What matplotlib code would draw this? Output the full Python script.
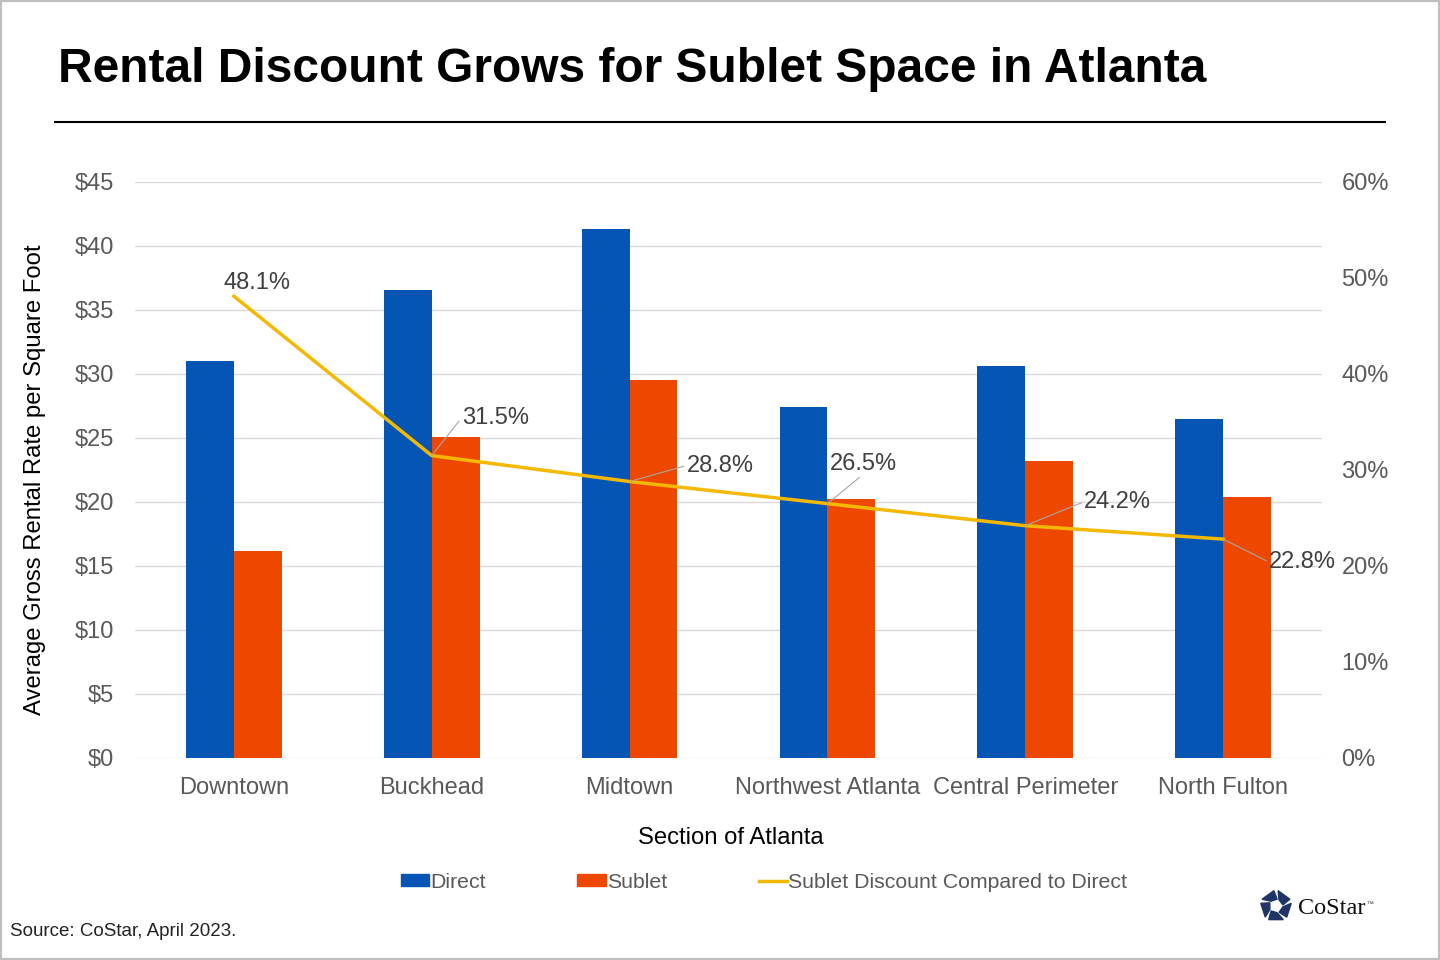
import numpy as np
import matplotlib
matplotlib.use('Agg')
import matplotlib.pyplot as plt
from matplotlib.patches import Patch, Polygon, Rectangle
from matplotlib.lines import Line2D

plt.rcParams['font.family'] = ['Liberation Sans', 'DejaVu Sans']

sections = ['Downtown', 'Buckhead', 'Midtown', 'Northwest Atlanta', 'Central Perimeter', 'North Fulton']
direct = [31.0, 36.6, 41.3, 27.4, 30.6, 26.5]
sublet = [16.2, 25.1, 29.5, 20.2, 23.2, 20.4]
discount = [48.1, 31.5, 28.8, 26.5, 24.2, 22.8]
rate_ticks = [0, 5, 10, 15, 20, 25, 30, 35, 40, 45]
pct_ticks = [0, 10, 20, 30, 40, 50, 60]

BLUE = '#0455B4'
ORANGE = '#EE4700'
YELLOW = '#F5B800'
GRAY = '#595959'

fig = plt.figure(figsize=(14.4, 9.6), dpi=100)
ax = fig.add_axes([135 / 1440, 1 - 758 / 960, (1322 - 135) / 1440, (758 - 182) / 960])
ax2 = ax.twinx()

x = np.arange(len(sections))
w = 0.242
ax.bar(x - w / 2, direct, w, color=BLUE, zorder=2)
ax.bar(x + w / 2, sublet, w, color=ORANGE, zorder=2)
ax.set_xlim(-0.5, len(sections) - 0.5)
ax.set_ylim(0, 45)
ax.set_yticks(rate_ticks)
ax.set_yticklabels([f'${t}' for t in rate_ticks])
ax.set_xticks(x)
ax.set_xticklabels(sections)
ax.grid(axis='y', color='#D9D9D9', lw=1, zorder=0)
ax.set_axisbelow(True)
ax.tick_params(axis='both', length=0, labelsize=17, labelcolor=GRAY)
ax.tick_params(axis='y', pad=15)
ax.tick_params(axis='x', pad=13.5)
for s in ax.spines.values():
    s.set_visible(False)

ax2.plot(x, discount, color=YELLOW, lw=2.5, zorder=3)
ax2.set_ylim(0, 60)
ax2.set_yticks(pct_ticks)
ax2.set_yticklabels([f'{t}%' for t in pct_ticks])
ax2.tick_params(axis='y', length=0, labelsize=17, labelcolor=GRAY, pad=14)
for s in ax2.spines.values():
    s.set_visible(False)

# label offsets in pixels from the point, and where the leader line attaches
offsets = [(23, 13, 'center', None), (30, 38, 'left', (0, 0.5)), (57, 16, 'left', (0, 0.5)),
           (2, 40, 'left', (0.5, 0)), (59, 24, 'left', (0, 0.5)), (46, -23, 'left', (0, 0.5))]
for i, (dx, dy, ha, rp) in enumerate(offsets):
    ap = None
    if rp is not None:
        ap = dict(arrowstyle='-', color='#A6A6A6', lw=0.8, relpos=rp, shrinkA=0, shrinkB=0)
    ax2.annotate(f'{discount[i]}%', (x[i], discount[i]), xytext=(dx, dy),
                 textcoords='offset pixels', ha=ha, va='center', fontsize=17,
                 color='#404040', arrowprops=ap, zorder=4)

fig.text(58 / 1440, 1 - 69 / 960, 'Rental Discount Grows for Sublet Space in Atlanta',
         fontsize=34.5, fontweight='bold', ha='left', va='center', color='black')
fig.add_artist(Line2D([55 / 1440, 1385 / 1440], [1 - 122 / 960] * 2, color='black', lw=1.5))

fig.text(35 / 1440, 1 - 480 / 960, 'Average Gross Rental Rate per Square Foot',
         rotation=90, ha='center', va='center', fontsize=17.2, color='black')
fig.text(731 / 1440, 1 - 838 / 960, 'Section of Atlanta', ha='center', va='center',
         fontsize=17.2, color='black')

handles = [Patch(color=BLUE), Patch(color=ORANGE), Line2D([], [], color=YELLOW, lw=2.5)]
fig.legend(handles, ['Direct', 'Sublet', 'Sublet Discount Compared to Direct'],
           loc='center', bbox_to_anchor=(764 / 1440, 1 - 882 / 960), ncol=3,
           frameon=False, fontsize=15.3, labelcolor=GRAY, handlelength=1.35,
           handleheight=0.55, handletextpad=0.05, columnspacing=4.3)

fig.text(10 / 1440, 1 - 932 / 960, 'Source: CoStar, April 2023.', fontsize=13.5,
         ha='left', va='center', color='#222222')

# CoStar logo
lax = fig.add_axes([1258 / 1440, 1 - 923 / 960, 36 / 1440, 34 / 960])
lax.set_xlim(-1.1, 1.1)
lax.set_ylim(-1.1, 1.1)
lax.set_aspect('equal')
lax.axis('off')
for k in range(5):
    a0 = np.deg2rad(90 + 72 * k + 8)
    a1 = np.deg2rad(90 + 72 * k + 64)
    pts = [(np.cos(a0), np.sin(a0)), (np.cos(a1), np.sin(a1)),
           (0.45 * np.cos(a1 - 0.3), 0.45 * np.sin(a1 - 0.3)),
           (0.45 * np.cos(a0 - 0.3), 0.45 * np.sin(a0 - 0.3))]
    lax.add_patch(Polygon(pts, closed=True, color='#1F3566'))
fig.text(1298 / 1440, 1 - 908 / 960, 'CoStar', fontsize=17.5, family='Liberation Serif',
         ha='left', va='center', color='#111111')
fig.text(1366 / 1440, 1 - 904 / 960, '™', fontsize=5, ha='left', va='center', color='#333333')

fig.add_artist(Rectangle((0, 0), 1, 1, transform=fig.transFigure, fill=False,
                         edgecolor='#BFBFBF', lw=3))

fig.savefig('out.png', dpi=100)
